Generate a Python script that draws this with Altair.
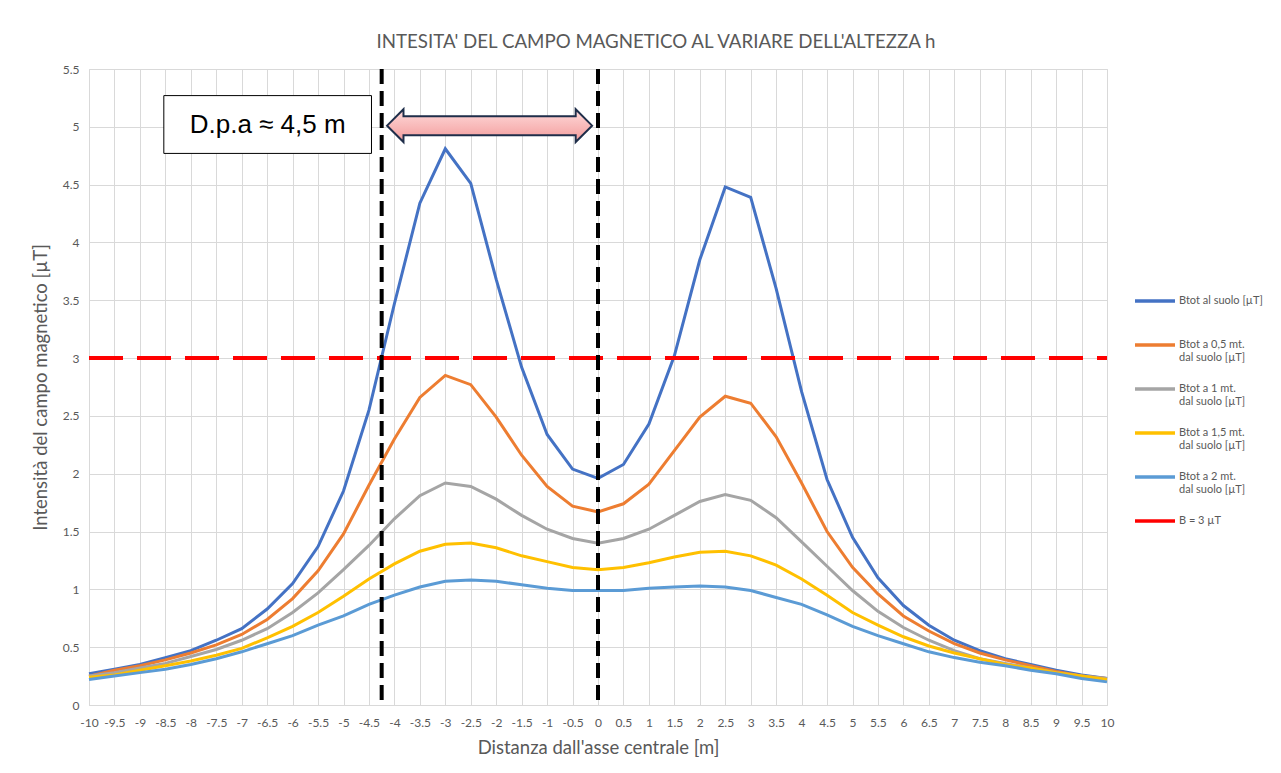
import altair as alt
import pandas as pd

# ---------------- data ----------------
distanze = [-10, -9.5, -9, -8.5, -8, -7.5, -7, -6.5, -6, -5.5, -5, -4.5, -4, -3.5, -3, -2.5, -2, -1.5, -1, -0.5,
            0, 0.5, 1, 1.5, 2, 2.5, 3, 3.5, 4, 4.5, 5, 5.5, 6, 6.5, 7, 7.5, 8, 8.5, 9, 9.5, 10]

btot_suolo = [0.27, 0.31, 0.35, 0.41, 0.47, 0.56, 0.66, 0.83, 1.05, 1.37, 1.85, 2.55, 3.47, 4.34, 4.81, 4.51, 3.68, 2.92, 2.34, 2.04,
              1.96, 2.08, 2.43, 3.02, 3.85, 4.48, 4.39, 3.60, 2.71, 1.95, 1.45, 1.10, 0.86, 0.69, 0.56, 0.47, 0.40, 0.35, 0.30, 0.26, 0.23]
btot_05 = [0.25, 0.30, 0.34, 0.39, 0.45, 0.52, 0.61, 0.74, 0.92, 1.16, 1.48, 1.90, 2.30, 2.66, 2.85, 2.77, 2.49, 2.16, 1.89, 1.72,
           1.67, 1.74, 1.91, 2.20, 2.49, 2.67, 2.61, 2.32, 1.92, 1.50, 1.19, 0.96, 0.77, 0.64, 0.53, 0.45, 0.39, 0.34, 0.29, 0.25, 0.23]
btot_1 = [0.25, 0.28, 0.32, 0.36, 0.42, 0.48, 0.56, 0.66, 0.80, 0.97, 1.17, 1.38, 1.61, 1.81, 1.92, 1.89, 1.78, 1.64, 1.52, 1.44,
          1.40, 1.44, 1.52, 1.64, 1.76, 1.82, 1.77, 1.62, 1.41, 1.20, 0.99, 0.81, 0.67, 0.56, 0.47, 0.40, 0.36, 0.32, 0.28, 0.25, 0.23]
btot_15 = [0.24, 0.26, 0.30, 0.34, 0.38, 0.43, 0.49, 0.58, 0.68, 0.80, 0.94, 1.09, 1.22, 1.33, 1.39, 1.40, 1.36, 1.29, 1.24, 1.19,
           1.17, 1.19, 1.23, 1.28, 1.32, 1.33, 1.29, 1.21, 1.09, 0.95, 0.80, 0.69, 0.59, 0.51, 0.45, 0.40, 0.35, 0.32, 0.28, 0.25, 0.22]
btot_2 = [0.22, 0.25, 0.28, 0.31, 0.35, 0.40, 0.46, 0.53, 0.60, 0.69, 0.77, 0.87, 0.95, 1.02, 1.07, 1.08, 1.07, 1.04, 1.01, 0.99,
          0.99, 0.99, 1.01, 1.02, 1.03, 1.02, 0.99, 0.93, 0.87, 0.78, 0.68, 0.60, 0.53, 0.46, 0.41, 0.37, 0.34, 0.30, 0.27, 0.23, 0.20]

B_LIMITE = 3

serie_nomi = [
    "Btot al suolo [µT]",
    "Btot a 0,5 mt.\ndal suolo [µT]",
    "Btot a 1 mt.\ndal suolo [µT]",
    "Btot a 1,5 mt.\ndal suolo [µT]",
    "Btot a 2 mt.\ndal suolo [µT]",
    "B = 3 µT",
]
colori = ["#4472C4", "#ED7D31", "#A5A5A5", "#FFC000", "#5B9BD5", "#FF0000"]

y_ticks = [0, 0.5, 1, 1.5, 2, 2.5, 3, 3.5, 4, 4.5, 5, 5.5]
linee_verticali = [-4.25, 0]

titolo = "INTESITA' DEL CAMPO MAGNETICO AL VARIARE DELL'ALTEZZA h"
titolo_x = "Distanza dall'asse centrale [m]"
titolo_y = "Intensità del campo magnetico [µT]"
nota_testo = "D.p.a ≈ 4,5 m"

# ---------------- tables ----------------
rows = []
for nome, valori in zip(serie_nomi[:5], [btot_suolo, btot_05, btot_1, btot_15, btot_2]):
    for d, v in zip(distanze, valori):
        rows.append({"d": d, "B": v, "serie": nome})
df = pd.DataFrame(rows)
df_lim = pd.DataFrame({"d": distanze, "B": [B_LIMITE] * len(distanze), "serie": serie_nomi[5]})
df_vert = pd.DataFrame({"d": linee_verticali})
df_one = pd.DataFrame({"k": [0]})

GRAY_TXT = "#595959"
FONT = "Lato"

x_axis = alt.Axis(
    values=distanze, labelExpr="toString(datum.value)", labelOverlap=False, labelFlush=False,
    title=titolo_x, titleFont=FONT, titleFontSize=18.5, titleFontWeight="normal", titleColor=GRAY_TXT,
    labelFont=FONT, labelFontSize=12, labelColor=GRAY_TXT, gridColor="#d9d9d9", gridWidth=1,
    domainColor="#d9d9d9", ticks=False, labelPadding=12, titlePadding=10,
)
y_axis = alt.Axis(
    values=y_ticks, labelExpr="toString(datum.value)",
    title=titolo_y, titleFont=FONT, titleFontSize=18.5, titleFontWeight="normal", titleColor=GRAY_TXT,
    labelFont=FONT, labelFontSize=12, labelColor=GRAY_TXT, gridColor="#d9d9d9", gridWidth=1,
    domain=False, ticks=False, labelPadding=10, titlePadding=12,
)
x_scale = alt.Scale(domain=[-10, 10], nice=False, zero=False)
y_scale = alt.Scale(domain=[0, 5.5], nice=False)

x_enc = alt.X("d:Q", scale=x_scale, axis=x_axis)
y_enc = alt.Y("B:Q", scale=y_scale, axis=y_axis)
color_enc = alt.Color(
    "serie:N",
    scale=alt.Scale(domain=serie_nomi, range=colori),
    legend=alt.Legend(
        title=None, orient="none", legendX=1044, legendY=210, symbolType="stroke", symbolSize=1600,
        symbolStrokeWidth=3.5, labelFont=FONT, labelFontSize=11, labelColor=GRAY_TXT,
        labelExpr="split(datum.label + (indexof(datum.label, '\\n') < 0 ? '\\n ' : ''), '\\n')",
        labelLimit=220, rowPadding=4, padding=0, labelOffset=2,
    ),
)


def xd(v):
    return alt.XDatum(v, scale=x_scale, axis=x_axis)


def yd(v):
    return alt.YDatum(v, scale=y_scale, axis=y_axis)


lines = alt.Chart(df).mark_line(strokeWidth=3).encode(x=x_enc, y=y_enc, color=color_enc)
limit = alt.Chart(df_lim).mark_line(strokeWidth=4, strokeDash=[34, 14]).encode(x=x_enc, y=y_enc, color=color_enc)
vert = alt.Chart(df_vert).mark_rule(color="black", strokeWidth=4, strokeDash=[15, 7]).encode(x=x_enc)

box = alt.Chart(df_one).mark_rect(fill="white", stroke="black", strokeWidth=1).encode(
    x=xd(-8.53), x2=alt.X2Datum(-4.45), y=yd(5.27), y2=alt.Y2Datum(4.77)
)
box_text = alt.Chart(df_one).mark_text(
    text=nota_testo, font="Liberation Sans", fontSize=26, color="black", align="center", baseline="middle"
).encode(x=xd(-6.49), y=yd(5.02))

arrow_path = ("M-1,0 L-0.84,-0.16 L-0.84,-0.093 L0.84,-0.093 L0.84,-0.16 L1,0 "
              "L0.84,0.16 L0.84,0.093 L-0.84,0.093 L-0.84,0.16 Z")
arrow = alt.Chart(df_one).mark_point(
    shape=arrow_path, size=42025, filled=True, opacity=1,
    fill=alt.Gradient(gradient="linear", x1=0, y1=0, x2=0, y2=1,
                      stops=[alt.GradientStop(color="#ffdada", offset=0),
                             alt.GradientStop(color="#f29b9b", offset=1)]),
    stroke="#1F2E4A", strokeWidth=2,
).encode(x=xd(-2.13), y=yd(5.01))

chart = alt.layer(lines, limit, vert, box, box_text, arrow).properties(
    width=1018, height=636,
    padding={"left": 23, "top": 25, "right": 0, "bottom": 0},
    title=alt.TitleParams(titolo, font=FONT, fontSize=18.7, fontWeight="normal", color=GRAY_TXT,
                          offset=11, dx=58, anchor="middle"),
).configure_view(stroke="transparent").configure(background="white")

chart.save("out.html", embed_options={"renderer": "svg", "actions": False})
